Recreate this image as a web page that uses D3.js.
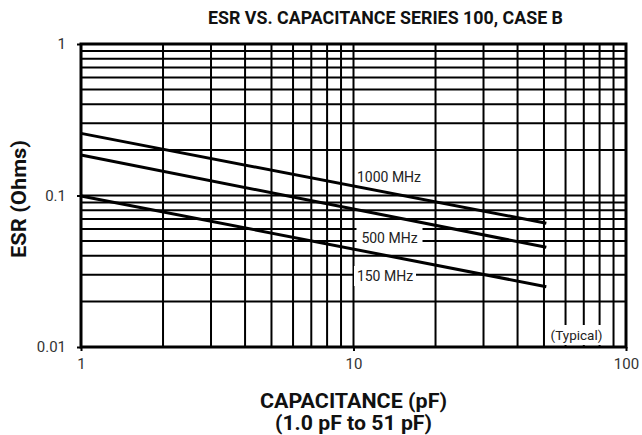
<!DOCTYPE html>
<html>
<head>
<meta charset="utf-8">
<script src="https://cdn.jsdelivr.net/npm/d3@7"></script>
<style>
  body { margin: 0; background: #fff; }
  svg { font-family: Roboto, "Liberation Sans", sans-serif; }
</style>
</head>
<body>
<svg width="642" height="435"></svg>
<script>
// ESR vs capacitance
const seriesNames = ["1000 MHz", "500 MHz", "150 MHz"];
const capacitance = [1, 51];            // pF, start and end of each curve
const esr1000 = [0.257, 0.0656];        // Ohms
const esr500 = [0.185, 0.0455];
const esr150 = [0.0993, 0.025];
const xTickLabels = ["1", "10", "100"];
const yTickLabels = ["1", "0.1", "0.01"];

const series = [
  { name: seriesNames[0], values: esr1000 },
  { name: seriesNames[1], values: esr500 },
  { name: seriesNames[2], values: esr150 }
];

const margin = { top: 44, right: 16, bottom: 88, left: 81 };
const width = 642, height = 435;
const svg = d3.select("svg");

const x = d3.scaleLog().domain([1, 100]).range([margin.left, width - margin.right]);
const y = d3.scaleLog().domain([0.01, 1]).range([height - margin.bottom, margin.top]);

// grid: every 1..9 multiple in each decade
const xGrid = [], yGrid = [];
for (const d of [1, 10]) for (let k = 2; k <= 9; k++) xGrid.push(d * k);
xGrid.push(10);
for (const d of [0.01, 0.1]) for (let k = 2; k <= 9; k++) yGrid.push(d * k);
yGrid.push(0.1);

const g = svg.append("g");
g.selectAll(".vgrid").data(xGrid).enter().append("line")
  .attr("x1", d => x(d)).attr("x2", d => x(d))
  .attr("y1", y(1)).attr("y2", y(0.01))
  .attr("stroke", "#000").attr("stroke-width", 2);
g.selectAll(".hgrid").data(yGrid).enter().append("line")
  .attr("x1", x(1)).attr("x2", x(100))
  .attr("y1", d => y(d)).attr("y2", d => y(d))
  .attr("stroke", "#000").attr("stroke-width", 2);

// curves
const line = d3.line().x((d, i) => x(capacitance[i])).y(d => y(d));
g.selectAll(".curve").data(series).enter().append("path")
  .attr("d", d => line(d.values))
  .attr("fill", "none").attr("stroke", "#000").attr("stroke-width", 3);

// frame
g.append("rect")
  .attr("x", x(1)).attr("y", y(1))
  .attr("width", x(100) - x(1)).attr("height", y(0.01) - y(1))
  .attr("fill", "none").attr("stroke", "#000").attr("stroke-width", 3);

// axis tick labels
const xAxis = d3.axisBottom(x).tickValues([1, 10, 100])
  .tickFormat((d, i) => xTickLabels[i]).tickSize(4).tickPadding(7);
const yAxis = d3.axisLeft(y).tickValues([1, 0.1, 0.01])
  .tickFormat((d, i) => yTickLabels[i]).tickSize(4).tickPadding(11);
const xa = svg.append("g").attr("transform", `translate(0,${y(0.01)})`).call(xAxis);
const ya = svg.append("g").attr("transform", `translate(${x(1)},0)`).call(yAxis);
for (const a of [xa, ya]) {
  a.select(".domain").remove();
  a.selectAll(".tick line").attr("stroke", "#000").attr("stroke-width", 2);
  a.selectAll("text").attr("font-size", 15).attr("fill", "#333")
    .attr("font-family", "Roboto, sans-serif");
}

// series labels, some on white boxes that hide the grid
const labels = [
  { text: seriesNames[0], cx: 389, cy: 177, box: false, size: 14 },
  { text: seriesNames[1], cx: 389.5, cy: 238, box: true, bw: 66, size: 14 },
  { text: seriesNames[2], cx: 385, cy: 276, box: true, bw: 62, size: 14 },
  { text: "(Typical)", cx: 576.5, cy: 335, box: true, bw: 56, size: 13.5 }
];
const lg = svg.append("g");
labels.forEach(l => {
  if (l.box) {
    lg.append("rect").attr("x", l.cx - l.bw / 2).attr("y", l.cy - 10)
      .attr("width", l.bw).attr("height", 20).attr("fill", "#fff");
  }
  lg.append("text").attr("x", l.cx).attr("y", l.cy)
    .attr("text-anchor", "middle").attr("dominant-baseline", "central")
    .attr("font-size", l.size).attr("fill", "#222").text(l.text);
});

// titles
function title(text, xPos, yPos, size, len) {
  return svg.append("text").attr("x", xPos).attr("y", yPos).attr("text-anchor", "middle")
    .attr("font-size", size).attr("font-weight", "bold").attr("fill", "#111")
    .attr("textLength", len).attr("lengthAdjust", "spacingAndGlyphs")
    .text(text);
}
title("ESR VS. CAPACITANCE SERIES 100, CASE B", 385.5, 24, 18, 355);
title("CAPACITANCE (pF)", 353.5, 408, 20, 187);
title("(1.0 pF to 51 pF)", 353.5, 430, 20, 157);
title("ESR (Ohms)", 0, 0, 20, 118)
  .attr("transform", `translate(26,199) rotate(-90)`);
</script>
</body>
</html>
